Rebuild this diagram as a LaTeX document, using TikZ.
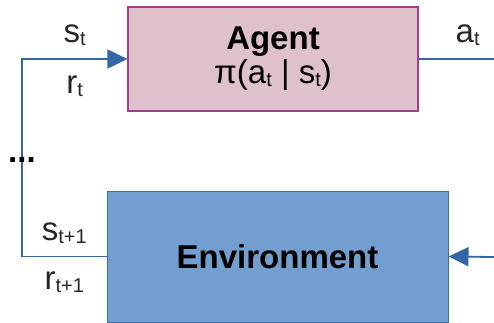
\documentclass[tikz,border=0pt]{standalone}
\usepackage{fontspec}
\setmainfont{Liberation Sans}
\usetikzlibrary{arrows.meta,positioning}
\definecolor{agentpink}{RGB}{223,193,204}
\definecolor{agentborder}{RGB}{163,62,143}
\definecolor{envblue}{RGB}{114,159,207}
\definecolor{envborder}{RGB}{62,108,168}
\definecolor{flowblue}{RGB}{52,101,164}
\newcommand{\lowsub}[1]{\raisebox{-3pt}{\fontsize{20}{20}\selectfont #1}}

\begin{document}
\begin{tikzpicture}[x=1pt,y=-1pt,>={Triangle[length=20pt,width=19pt]}]
\tikzstyle{agentbox}=[draw=agentborder,line width=1.2pt,fill=agentpink,align=center,minimum width=290pt,minimum height=104pt,inner sep=0pt,font=\fontsize{33}{34}\selectfont]
\tikzstyle{envbox}=[draw=envborder,line width=1pt,fill=envblue,align=center,minimum width=341pt,minimum height=131pt,inner sep=0pt,font=\bfseries\fontsize{33}{34}\selectfont]
\tikzstyle{flow}=[flowblue,line width=1.8pt]
\tikzstyle{sig}=[inner sep=0pt,text=black!85,font=\fontsize{33}{34}\selectfont]
\useasboundingbox (0,0) rectangle (494,323);

\node[agentbox] (agent) at (273,59) {\textbf{Agent}\\π(a\lowsub{t} | s\lowsub{t})};
\node[envbox] (env) at (277.5,256.5) {Environment};

\coordinate (feedback) at (22,160);
\coordinate (actout) at (494,59);
\coordinate (actin) at (494,257);

\draw[flow] (env.west) -| node[sig,pos=.25,above=12pt]{s\lowsub{t+1}} node[sig,pos=.25,below=14pt]{r\lowsub{t+1}} (feedback);
\draw[flow,->] (feedback) |- node[sig,pos=.75,above=12pt]{s\lowsub{t}} node[sig,pos=.75,below=16pt]{r\lowsub{t}} (agent.west);
\draw[flow] (agent.east) -- node[sig,pos=.65,above=12pt]{a\lowsub{t}} (actout);
\draw[flow,->] (actin) -- (env.east);

% gap in the loop
\node[font=\bfseries\fontsize{33}{34}\selectfont,inner sep=0pt] (dots) at (feedback) {...};
\end{tikzpicture}
\end{document}
